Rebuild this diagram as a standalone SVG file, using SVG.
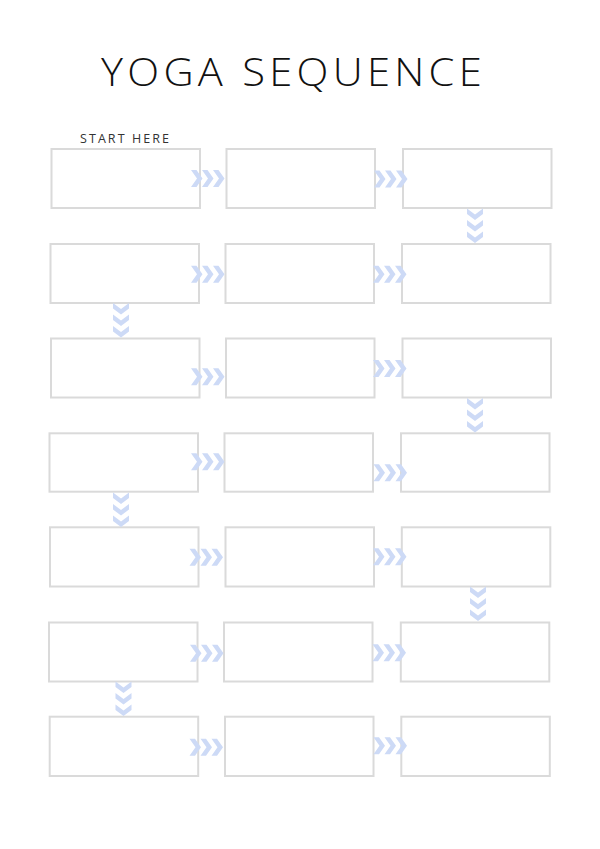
<svg xmlns="http://www.w3.org/2000/svg" xmlns:xlink="http://www.w3.org/1999/xlink" width="600" height="849" viewBox="0 0 600 849">
<style>
.box{fill:#ffffff;stroke:#dadada;stroke-width:2}
.chev{fill:#cddaf6}
.title{font-family:"Open Sans","Noto Sans","Liberation Sans",sans-serif;font-size:39px;font-weight:350;letter-spacing:4px;fill:#111111}
.label{font-family:"Open Sans","Noto Sans","Liberation Sans",sans-serif;font-size:12.5px;font-weight:400;fill:#333333}
</style>
<defs>
<g id="hchev">
<polygon class="chev" points="0,-8.5 5.5,-8.5 11.5,0 5.5,8.5 0,8.5 6,0"/>
<polygon class="chev" points="11,-8.5 16.5,-8.5 22.5,0 16.5,8.5 11,8.5 17,0"/>
<polygon class="chev" points="22,-8.5 27.5,-8.5 33.5,0 27.5,8.5 22,8.5 28,0"/>
</g>
<g id="vchev">
<polygon class="chev" points="-8,0 -8,5.5 0,11.5 8,5.5 8,0 0,6"/>
<polygon class="chev" points="-8,11.5 -8,17 0,23 8,17 8,11.5 0,17.5"/>
<polygon class="chev" points="-8,23 -8,28.5 0,34.5 8,28.5 8,23 0,29"/>
</g>
</defs>
<rect width="600" height="849" fill="#ffffff"/>
<text class="title" x="101" y="86" textLength="385" lengthAdjust="spacingAndGlyphs">YOGA SEQUENCE</text>
<text class="label" x="80" y="143.3" textLength="89" lengthAdjust="spacing">START HERE</text>
<g id="nodes">
<g id="n1-1"><rect class="box" x="51.5" y="149" width="148.5" height="59"/></g>
<g id="n1-2"><rect class="box" x="226.5" y="149" width="148.5" height="59"/></g>
<g id="n1-3"><rect class="box" x="403" y="149" width="148.5" height="59"/></g>
<g id="n2-1"><rect class="box" x="50.5" y="244" width="148.5" height="59"/></g>
<g id="n2-2"><rect class="box" x="225.5" y="244" width="148.5" height="59"/></g>
<g id="n2-3"><rect class="box" x="402" y="244" width="148.5" height="59"/></g>
<g id="n3-1"><rect class="box" x="51" y="338.5" width="148.5" height="59"/></g>
<g id="n3-2"><rect class="box" x="226" y="338.5" width="148.5" height="59"/></g>
<g id="n3-3"><rect class="box" x="402.5" y="338.5" width="148.5" height="59"/></g>
<g id="n4-1"><rect class="box" x="49.5" y="433.3" width="148.5" height="58.4"/></g>
<g id="n4-2"><rect class="box" x="224.5" y="433.3" width="148.5" height="58.4"/></g>
<g id="n4-3"><rect class="box" x="401" y="433.3" width="148.5" height="58.4"/></g>
<g id="n5-1"><rect class="box" x="50" y="527.3" width="148.5" height="59.2"/></g>
<g id="n5-2"><rect class="box" x="225.5" y="527.3" width="148.5" height="59.2"/></g>
<g id="n5-3"><rect class="box" x="401.8" y="527.3" width="148.5" height="59.2"/></g>
<g id="n6-1"><rect class="box" x="49" y="622.5" width="148.5" height="59"/></g>
<g id="n6-2"><rect class="box" x="224" y="622.5" width="148.5" height="59"/></g>
<g id="n6-3"><rect class="box" x="400.8" y="622.5" width="148.5" height="59"/></g>
<g id="n7-1"><rect class="box" x="49.7" y="716.7" width="148.5" height="59.3"/></g>
<g id="n7-2"><rect class="box" x="225" y="716.7" width="148.5" height="59.3"/></g>
<g id="n7-3"><rect class="box" x="401.3" y="716.7" width="148.5" height="59.3"/></g>
</g>
<g id="connectors">
<use xlink:href="#hchev" href="#hchev" x="191" y="178.5"/>
<use xlink:href="#hchev" href="#hchev" x="374" y="179"/>
<use xlink:href="#vchev" href="#vchev" x="475" y="208.5"/>
<use xlink:href="#hchev" href="#hchev" x="191" y="274.3"/>
<use xlink:href="#hchev" href="#hchev" x="373" y="274.3"/>
<use xlink:href="#vchev" href="#vchev" x="121" y="303"/>
<use xlink:href="#hchev" href="#hchev" x="191" y="376.7"/>
<use xlink:href="#hchev" href="#hchev" x="373" y="368.5"/>
<use xlink:href="#vchev" href="#vchev" x="475" y="398"/>
<use xlink:href="#hchev" href="#hchev" x="191" y="461.7"/>
<use xlink:href="#hchev" href="#hchev" x="373.5" y="472.7"/>
<use xlink:href="#vchev" href="#vchev" x="121" y="492.5"/>
<use xlink:href="#hchev" href="#hchev" x="189.5" y="557.3"/>
<use xlink:href="#hchev" href="#hchev" x="373" y="556.7"/>
<use xlink:href="#vchev" href="#vchev" x="478" y="586.5"/>
<use xlink:href="#hchev" href="#hchev" x="190" y="653.3"/>
<use xlink:href="#hchev" href="#hchev" x="372.5" y="652.7"/>
<use xlink:href="#vchev" href="#vchev" x="123.5" y="681.5"/>
<use xlink:href="#hchev" href="#hchev" x="189.5" y="747.3"/>
<use xlink:href="#hchev" href="#hchev" x="373.5" y="745.7"/>
</g>
</svg>
